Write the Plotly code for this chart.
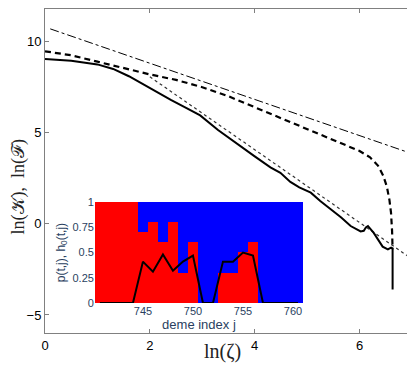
import plotly.graph_objects as go

# main panel: log-log curves
solid_x = [0, 0.5, 1.0, 1.3, 1.6, 1.82, 2.1, 2.4, 2.7, 2.96, 3.3, 3.73, 4.0, 4.3, 4.49, 4.68, 4.85, 5.07,
           5.25, 5.45, 5.65, 5.83, 5.95, 6.02, 6.08, 6.12, 6.16, 6.2, 6.27, 6.35, 6.44, 6.54, 6.6, 6.63, 6.63]
solid_y = [9.05, 8.95, 8.75, 8.5, 8.1, 7.74, 7.3, 6.8, 6.35, 5.95, 5.15, 4.24, 3.7, 3.1, 2.8, 2.3, 2.0, 1.71,
           1.25, 0.8, 0.35, -0.12, -0.3, -0.42, -0.38, -0.2, -0.12, -0.25, -0.5, -0.85, -1.25, -1.4, -1.3, -1.35, -3.6]

dashed_x = [0, 0.5, 1.0, 1.5, 2.0, 2.5, 3.0, 3.5, 4.0, 4.5, 5.0, 5.5, 6.0, 6.2, 6.35, 6.45, 6.52, 6.57, 6.6, 6.62, 6.63]
dashed_y = [9.47, 9.25, 8.9, 8.55, 8.2, 7.9, 7.5, 7.0, 6.4, 5.8, 5.17, 4.6, 4.0, 3.65, 3.2, 2.65, 2.05, 1.3, 0.6, -0.4, -1.4]

dashdot_x = [0.1, 7.0]
dashdot_y = [10.7, 3.85]

dotted_x = [2.0, 7.0]
dotted_y = [8.07, -1.93]

# inset: deme profile
demes = list(range(740, 762))
p_vals = [1, 1, 1, 1, 1, 0.7, 0.8, 0.6, 0.8, 0.3, 0.6, 0, 0, 0.3, 0.3, 0.5, 0.6, 0, 0, 0, 0, 0]
h_x = [740.7, 741, 742, 743, 744, 745, 746, 747, 748, 749, 750, 751, 752, 753, 754, 755, 756, 757, 758, 759, 760, 760.5]
h_y = [0, 0, 0, 0, 0, 0.41, 0.31, 0.48, 0.32, 0.41, 0.47, 0, 0, 0.41, 0.41, 0.5, 0.47, 0, 0, 0, 0, 0]
q_vals = [1 - p for p in p_vals]

fig = go.Figure()
fig.add_trace(go.Scatter(x=dashdot_x, y=dashdot_y, mode="lines",
                         line=dict(color="black", width=1, dash="dashdot")))
fig.add_trace(go.Scatter(x=dotted_x, y=dotted_y, mode="lines",
                         line=dict(color="#333333", width=1.2, dash="dot")))
fig.add_trace(go.Scatter(x=dashed_x, y=dashed_y, mode="lines",
                         line=dict(color="black", width=2.2, dash="6px,4px")))
fig.add_trace(go.Scatter(x=solid_x, y=solid_y, mode="lines",
                         line=dict(color="black", width=2)))

fig.add_trace(go.Bar(x=demes, y=p_vals, width=1, marker=dict(color="#ff0000", line=dict(width=0)),
                     xaxis="x2", yaxis="y2"))
fig.add_trace(go.Bar(x=demes, y=q_vals, width=1, marker=dict(color="#0000ff", line=dict(width=0)),
                     xaxis="x2", yaxis="y2"))
fig.add_trace(go.Scatter(x=h_x, y=h_y, mode="lines", line=dict(color="black", width=2),
                         xaxis="x2", yaxis="y2"))

# page body adds an 8px offset, so the figure is a bit smaller and shifted
axis_font = dict(family="Liberation Sans, Arial", size=13, color="black")
fig.update_layout(
    width=407, height=359,
    margin=dict(l=37, r=3, t=1, b=34),
    paper_bgcolor="white", plot_bgcolor="white",
    showlegend=False,
    barmode="stack", bargap=0,
    xaxis=dict(range=[0, 7], tickvals=[0, 2, 4, 6], ticks="inside", ticklen=4, tickcolor="#808080",
               showline=True, linecolor="#808080", mirror="ticks", showgrid=False, zeroline=False,
               tickfont=axis_font, automargin=False),
    yaxis=dict(range=[-5.99, 11.79], tickvals=[-5, 0, 5, 10], ticks="inside", ticklen=4, tickcolor="#808080",
               showline=True, linecolor="#808080", mirror="ticks", showgrid=False, zeroline=False,
               tickfont=axis_font, automargin=False),
    xaxis2=dict(domain=[0.136, 0.703], anchor="y2", range=[740.2, 761], tickvals=[745, 750, 755, 760],
                showgrid=False, zeroline=False, ticks="", automargin=False,
                tickfont=dict(family="Liberation Sans, Arial", size=11),
                title=dict(text="deme index j", standoff=2, font=dict(family="Liberation Sans, Arial", size=13))),
    yaxis2=dict(domain=[0.0926, 0.404], anchor="x2", range=[0, 1], tickvals=[0, 0.25, 0.5, 0.75, 1],
                ticktext=["0", "0.25", "0.5", "0.75", "1"], showgrid=False, zeroline=False, ticks="",
                automargin=False, tickfont=dict(family="Liberation Sans, Arial", size=11),
                title=dict(text="p(t,j), h<sub>0</sub>(t,j)", standoff=4,
                           font=dict(family="Liberation Sans, Arial", size=12))),
)

fig.add_annotation(text="ln(𝒦),  ln(ℱ)", xref="paper", yref="paper", x=-0.072, y=0.451,
                   xanchor="center", yanchor="middle", textangle=-90, showarrow=False,
                   font=dict(family="Liberation Serif, Times New Roman", size=18, color="#222222"))
fig.add_annotation(text="ln(ζ)", xref="paper", yref="paper", x=0.485, y=-0.0586,
                   xanchor="center", yanchor="middle", showarrow=False,
                   font=dict(family="Liberation Serif, Times New Roman", size=20, color="#222222"))

fig.write_html("out.html")
